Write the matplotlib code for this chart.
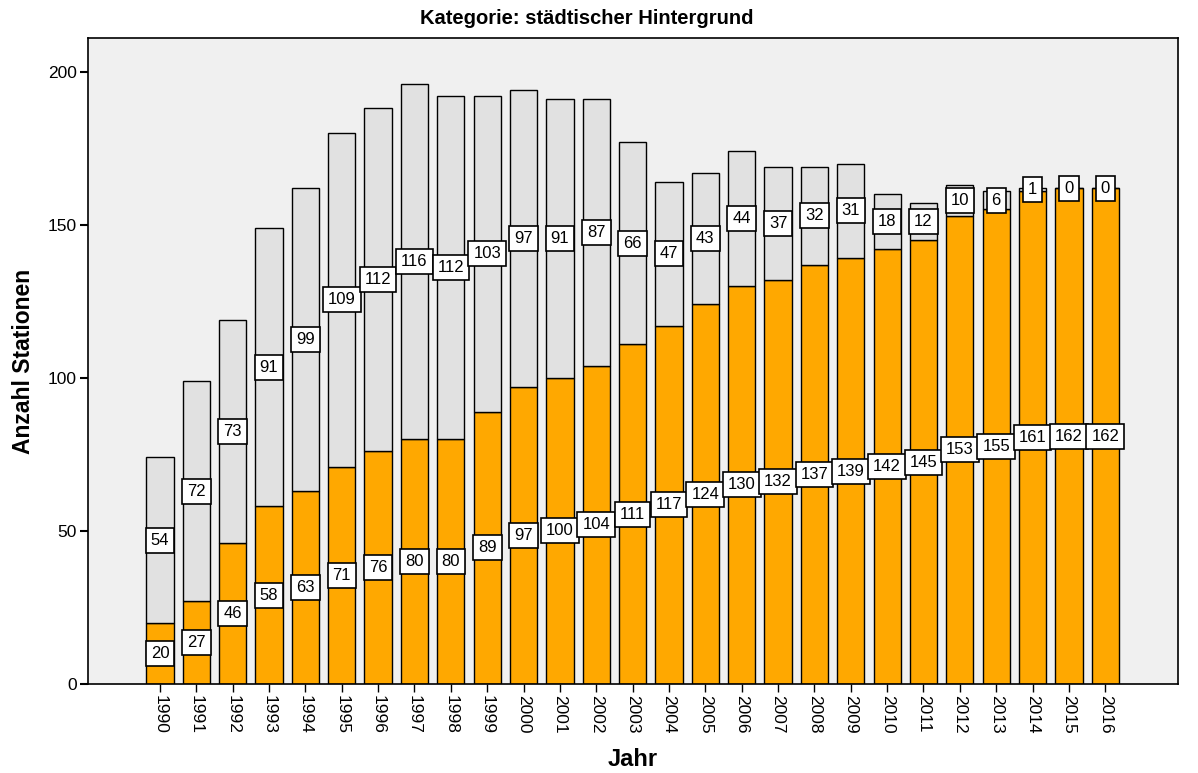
import numpy as np
from matplotlib import pyplot as plt

plt.rcParams['font.family'] = ['Liberation Sans', 'DejaVu Sans']

jahre = list(range(1990, 2017))
unten = [20, 27, 46, 58, 63, 71, 76, 80, 80, 89, 97, 100, 104, 111, 117,
         124, 130, 132, 137, 139, 142, 145, 153, 155, 161, 162, 162]
oben = [54, 72, 73, 91, 99, 109, 112, 116, 112, 103, 97, 91, 87, 66, 47,
        43, 44, 37, 32, 31, 18, 12, 10, 6, 1, 0, 0]

orange = '#FFA800'
grau = '#E1E1E1'

fig = plt.figure(figsize=(11.98, 7.73), dpi=100)
ax = fig.add_axes([88/1198, 1-684/773, (1178-88)/1198, (684-38)/773])
ax.set_facecolor('#F0F0F0')

x = np.arange(len(jahre))
ax.bar(x, unten, width=0.75, color=orange, edgecolor='black', linewidth=1)
ax.bar(x, oben, width=0.75, bottom=unten, color=grau, edgecolor='black', linewidth=1)

box = dict(boxstyle='square,pad=0.3', facecolor='white', edgecolor='black', linewidth=1.2)
for i in range(len(jahre)):
    ax.text(x[i], unten[i]/2, str(unten[i]), ha='center', va='center',
            fontsize=12, bbox=box, zorder=5)
    ax.text(x[i], unten[i] + oben[i]/2, str(oben[i]), ha='center', va='center',
            fontsize=12, bbox=box, zorder=5)

ax.set_xlim(-1.98, 28.0)
ax.set_ylim(0, 211)
ax.set_xticks(x)
ax.set_xticklabels([str(j) for j in jahre], rotation=270, fontsize=12.5)
ax.set_yticks([0, 50, 100, 150, 200])
ax.tick_params(axis='y', labelsize=12.5, length=6, width=1.5, direction='out', pad=2)
ax.tick_params(axis='x', length=6, width=1, direction='out', pad=2)
for s in ax.spines.values():
    s.set_linewidth(1.2)

ax.set_ylabel('Anzahl Stationen', fontsize=16.5, fontweight='bold', labelpad=9)
ax.set_xlabel('Jahr', fontsize=17, fontweight='bold', labelpad=10)
fig.text(0.49, 1-19/773, 'Kategorie: städtischer Hintergrund', ha='center', va='center',
         fontsize=14.5, fontweight='bold')

fig.savefig('out.png', dpi=100)
